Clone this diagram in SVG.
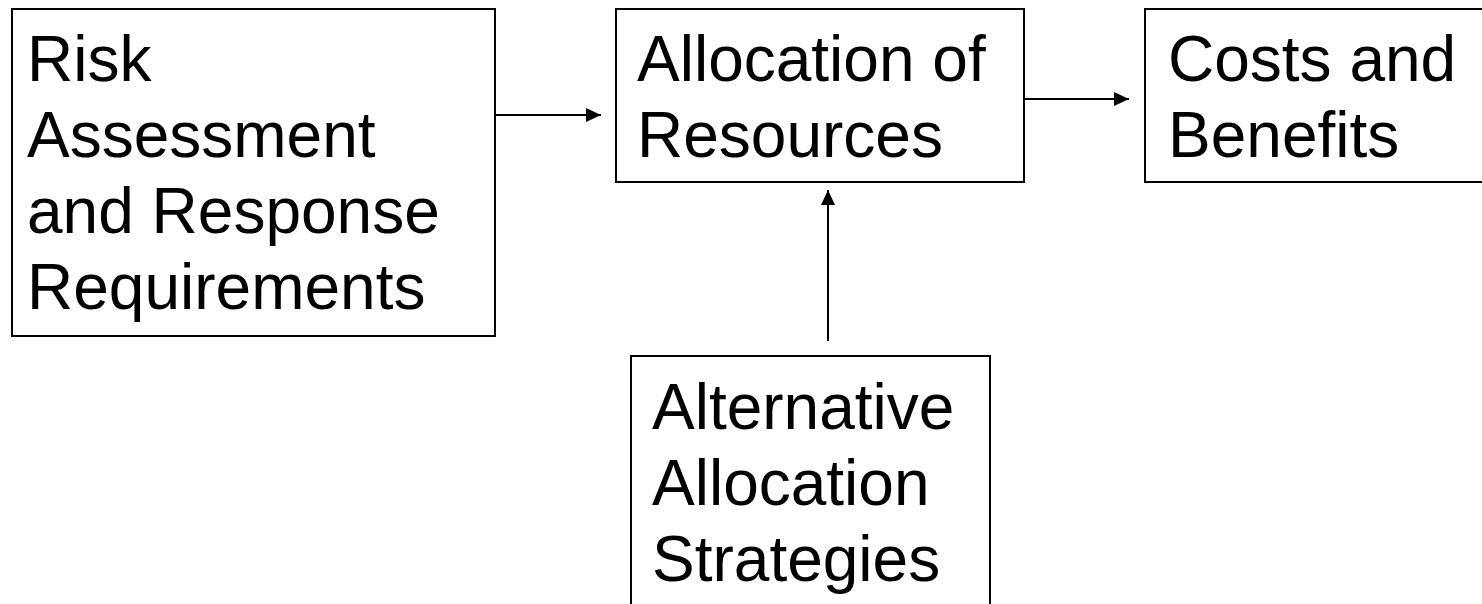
<svg xmlns="http://www.w3.org/2000/svg" width="1482" height="604" viewBox="0 0 1482 604">
  <style>
    .box { fill: #ffffff; stroke: #000000; stroke-width: 2; }
    .label { font-family: "Liberation Sans", Arial, sans-serif; font-size: 64px; fill: #000000; }
    .link { stroke: #000000; stroke-width: 2; fill: none; marker-end: url(#head); }
  </style>
  <defs>
    <marker id="head" markerUnits="userSpaceOnUse" markerWidth="16" markerHeight="14" refX="15" refY="7" orient="auto">
      <path d="M0,0 L15,7 L0,14 Z" fill="#000000"/>
    </marker>
  </defs>
  <rect width="1482" height="604" fill="#ffffff"/>

  <g id="risk-assessment">
    <rect class="box" x="12" y="9" width="483" height="327"/>
    <text class="label" x="27">
      <tspan x="27" y="81">Risk</tspan>
      <tspan x="27" y="157">Assessment</tspan>
      <tspan x="27" y="233">and Response</tspan>
      <tspan x="27" y="309">Requirements</tspan>
    </text>
  </g>

  <g id="allocation-of-resources">
    <rect class="box" x="616" y="9" width="408" height="173"/>
    <text class="label">
      <tspan x="637" y="81">Allocation of</tspan>
      <tspan x="637" y="157">Resources</tspan>
    </text>
  </g>

  <g id="costs-and-benefits">
    <rect class="box" x="1145" y="9" width="345" height="173"/>
    <text class="label">
      <tspan x="1168" y="81">Costs and</tspan>
      <tspan x="1168" y="157">Benefits</tspan>
    </text>
  </g>

  <g id="alternative-strategies">
    <rect class="box" x="631" y="356" width="359" height="270"/>
    <text class="label">
      <tspan x="652" y="429">Alternative</tspan>
      <tspan x="652" y="505">Allocation</tspan>
      <tspan x="652" y="581">Strategies</tspan>
    </text>
  </g>

  <g id="connectors">
    <line class="link" x1="495" y1="115" x2="601" y2="115"/>
    <line class="link" x1="1024" y1="99" x2="1129" y2="99"/>
    <line class="link" x1="828" y1="341" x2="828" y2="190"/>
  </g>
</svg>
